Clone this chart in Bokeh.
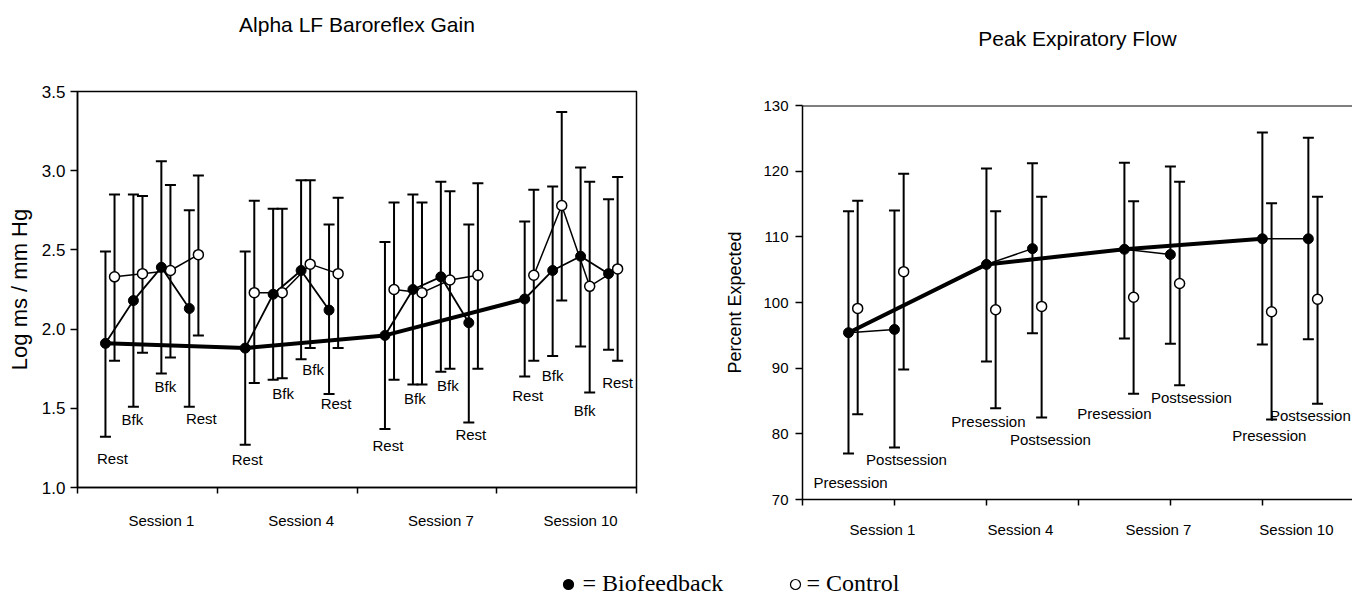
from bokeh.plotting import figure
from bokeh.layouts import row, column
from bokeh.models import FixedTicker, Range1d, Span, LinearAxis, NumeralTickFormatter
from bokeh.core.properties import value
from bokeh.embed import file_html
from bokeh.resources import INLINE

# ---------------- data ----------------
sessions = ["Session 1", "Session 4", "Session 7", "Session 10"]

# Left panel: Alpha LF baroreflex gain (log ms / mm Hg), 4 periods per session
baro_phase = ["Rest", "Bfk", "Bfk", "Rest"]
baro_bio_mean = [1.91, 2.18, 2.39, 2.13, 1.88, 2.22, 2.37, 2.12,
                 1.96, 2.25, 2.33, 2.04, 2.19, 2.37, 2.46, 2.35]
baro_bio_hi = [2.49, 2.85, 3.06, 2.75, 2.49, 2.76, 2.94, 2.66,
               2.55, 2.85, 2.93, 2.66, 2.68, 2.90, 3.02, 2.82]
baro_bio_lo = [1.32, 1.51, 1.72, 1.51, 1.27, 1.68, 1.81, 1.59,
               1.37, 1.65, 1.73, 1.41, 1.70, 1.83, 1.89, 1.87]
baro_ctl_mean = [2.33, 2.35, 2.37, 2.47, 2.23, 2.23, 2.41, 2.35,
                 2.25, 2.23, 2.31, 2.34, 2.34, 2.78, 2.27, 2.38]
baro_ctl_hi = [2.85, 2.84, 2.91, 2.97, 2.81, 2.76, 2.94, 2.83,
               2.80, 2.80, 2.87, 2.92, 2.88, 3.37, 2.93, 2.96]
baro_ctl_lo = [1.80, 1.85, 1.82, 1.96, 1.66, 1.69, 1.88, 1.88,
               1.68, 1.65, 1.75, 1.75, 1.80, 2.18, 1.60, 1.80]

# Right panel: Peak expiratory flow (% expected), pre / post per session
pef_phase = ["Presession", "Postsession"]
pef_bio_mean = [95.4, 95.9, 105.8, 108.2, 108.1, 107.3, 109.7, 109.7]
pef_bio_hi = [113.9, 114.0, 120.4, 121.2, 121.3, 120.7, 125.9, 125.1]
pef_bio_lo = [77.0, 77.9, 91.0, 95.3, 94.5, 93.7, 93.6, 94.4]
pef_ctl_mean = [99.1, 104.7, 98.9, 99.4, 100.8, 102.9, 98.6, 100.5]
pef_ctl_hi = [115.5, 119.6, 113.9, 116.1, 115.4, 118.4, 115.1, 116.1]
pef_ctl_lo = [83.0, 89.8, 83.9, 82.5, 86.1, 87.4, 82.2, 84.6]

titles = ["Alpha LF Baroreflex Gain", "Peak Expiratory Flow"]
legend_names = ["= Biofeedback", "= Control"]

# ---------------- layout helpers (positions / styles) ----------------
FONT = "Liberation Sans"
BLACK = "#000000"
baro_lab_dx = [7, -1, 4, 12, 2, 10, 12, 7, 3, 2, 7, 2, 3, 0, 4, 9]
baro_lab_dy = [22, 13, 13, 12, 15, 14, 10, 9, 17, 14, 14, 12, 19, 19, 18, 22]
pef_lab_dx = [2, 12, 2, 18, -10, 21, 7, 2]
pef_lab_dy = [29, 12, 13, 22, 20, 12, 16, 12]


def no_align(p):
    if "frame_align" in p.properties():
        p.frame_align = False


def add_title(p, text, gap, bounds):
    # title drawn as the label of a bare axis above the frame
    ax = LinearAxis(ticker=FixedTicker(ticks=[], minor_ticks=[]), axis_line_color=None,
                    major_tick_line_color=None, minor_tick_line_color=None,
                    major_tick_out=0, major_tick_in=0, minor_tick_out=0, minor_tick_in=0,
                    major_label_standoff=0, axis_label=text, axis_label_standoff=gap,
                    axis_label_text_font=FONT, axis_label_text_font_size="21px",
                    axis_label_text_font_style="normal", axis_label_text_color=BLACK,
                    bounds=bounds)
    p.add_layout(ax, "above")


def style_axes(p, tick_font, x_standoff):
    p.xgrid.grid_line_color = None
    p.ygrid.grid_line_color = None
    for ax in p.xaxis + p.yaxis:
        ax.axis_line_color = BLACK
        ax.axis_line_width = 1.5
        ax.major_tick_line_color = BLACK
        ax.major_tick_line_width = 1.5
        ax.minor_tick_line_color = BLACK
        ax.minor_tick_line_width = 1.5
        ax.major_label_text_font = FONT
        ax.major_label_text_color = BLACK
        ax.axis_label_text_font = FONT
        ax.axis_label_text_font_style = "normal"
        ax.axis_label_text_color = BLACK
    p.yaxis.major_label_text_font_size = tick_font
    p.xaxis.major_label_text_font_size = "15px"
    p.xaxis.major_tick_out = 0
    p.xaxis.major_tick_in = 0
    p.xaxis.minor_tick_out = 6
    p.xaxis.minor_tick_in = 0
    p.xaxis.major_label_standoff = x_standoff
    p.yaxis.major_tick_out = 7
    p.yaxis.major_tick_in = 0


def draw_errorbars(p, x, lo, hi, width):
    p.segment(x0=x, y0=lo, x1=x, y1=hi, line_color=BLACK, line_width=width)
    p.scatter(x=x, y=hi, marker="dash", size=11, line_color=BLACK, line_width=width)
    p.scatter(x=x, y=lo, marker="dash", size=11, line_color=BLACK, line_width=width)


# ================= LEFT PANEL =================
n_per = len(baro_phase)
bx = [s + 0.2 * (k + 1) for s in range(len(sessions)) for k in range(n_per)]
cx = [x + 0.065 for x in bx]

p1 = figure(width=700, height=550, x_range=Range1d(0, 4), y_range=Range1d(1.0, 3.5),
            output_backend="svg", toolbar_location=None,
            min_border_left=77, min_border_right=64, min_border_top=91, min_border_bottom=63)
no_align(p1)
p1.outline_line_color = BLACK
p1.outline_line_width = 1.5

p1.xaxis.ticker = FixedTicker(ticks=[s + 0.6 for s in range(len(sessions))],
                              minor_ticks=list(range(len(sessions) + 1)))
p1.xaxis.major_label_overrides = {s + 0.6: sessions[s] for s in range(len(sessions))}
p1.yaxis.ticker = FixedTicker(ticks=[1.0, 1.5, 2.0, 2.5, 3.0, 3.5], minor_ticks=[])
p1.yaxis.formatter = NumeralTickFormatter(format="0.0")
p1.yaxis.axis_label = "Log ms / mm Hg"
style_axes(p1, "17px", 18)
p1.yaxis.major_label_standoff = 5
p1.yaxis.axis_label_text_font_size = "22px"
p1.yaxis.axis_label_standoff = 7
add_title(p1, titles[0], 56, (0, 4))

draw_errorbars(p1, bx, baro_bio_lo, baro_bio_hi, 2)
draw_errorbars(p1, cx, baro_ctl_lo, baro_ctl_hi, 2)

for s in range(len(sessions)):
    sl = slice(s * n_per, (s + 1) * n_per)
    p1.line(cx[sl], baro_ctl_mean[sl], line_color=BLACK, line_width=1.5)
    p1.line(bx[sl], baro_bio_mean[sl], line_color=BLACK, line_width=1.8)

first = list(range(0, len(bx), n_per))
p1.line([bx[i] for i in first], [baro_bio_mean[i] for i in first], line_color=BLACK, line_width=4)

p1.scatter(cx, baro_ctl_mean, marker="circle", size=10, fill_color="white",
           line_color=BLACK, line_width=1.5)
p1.scatter(bx, baro_bio_mean, marker="circle", size=10, fill_color=BLACK, line_color=BLACK)

baro_lab_y = [min(a, b) for a, b in zip(baro_bio_lo, baro_ctl_lo)]
p1.text(x=bx, y=baro_lab_y, text=baro_phase * len(sessions), x_offset=baro_lab_dx,
        y_offset=baro_lab_dy, text_align="center", text_baseline="middle",
        text_font=value(FONT), text_font_size="15px", text_color=BLACK)

# ================= RIGHT PANEL =================
n_pp = len(pef_phase)
px_ = [0.5 + 1.5 * s + 0.5 * k for s in range(len(sessions)) for k in range(n_pp)]
pcx = [x + 0.1 for x in px_]

p2 = figure(width=652, height=550, x_range=Range1d(0, 5.98), y_range=Range1d(70, 130),
            output_backend="svg", toolbar_location=None,
            min_border_left=102, min_border_right=0, min_border_top=105, min_border_bottom=51)
no_align(p2)
p2.outline_line_color = None
p2.add_layout(Span(location=130, dimension="width", line_color=BLACK, line_width=2))

p2.xaxis.ticker = FixedTicker(ticks=[0.5 + 1.5 * s + 0.37 for s in range(len(sessions))],
                              minor_ticks=list(range(7)))
p2.xaxis.major_label_overrides = {0.5 + 1.5 * s + 0.37: sessions[s] for s in range(len(sessions))}
p2.yaxis.ticker = FixedTicker(ticks=[70, 80, 90, 100, 110, 120, 130], minor_ticks=[])
p2.yaxis.axis_label = "Percent Expected"
style_axes(p2, "15px", 15)
p2.yaxis.major_label_standoff = 7
p2.yaxis.axis_label_text_font_size = "18px"
p2.yaxis.axis_label_standoff = 15
add_title(p2, titles[1], 56, (0.18, 5.98))

draw_errorbars(p2, px_, pef_bio_lo, pef_bio_hi, 2)
draw_errorbars(p2, pcx, pef_ctl_lo, pef_ctl_hi, 2)

for s in range(len(sessions)):
    sl = slice(s * n_pp, (s + 1) * n_pp)
    p2.line(px_[sl], pef_bio_mean[sl], line_color=BLACK, line_width=1.5)

pfirst = list(range(0, len(px_), n_pp))
p2.line([px_[i] for i in pfirst], [pef_bio_mean[i] for i in pfirst], line_color=BLACK, line_width=4)

p2.scatter(pcx, pef_ctl_mean, marker="circle", size=10, fill_color="white",
           line_color=BLACK, line_width=1.5)
p2.scatter(px_, pef_bio_mean, marker="circle", size=10, fill_color=BLACK, line_color=BLACK)

pef_lab_y = [min(a, b) for a, b in zip(pef_bio_lo, pef_ctl_lo)]
p2.text(x=px_, y=pef_lab_y, text=pef_phase * len(sessions), x_offset=pef_lab_dx,
        y_offset=pef_lab_dy, text_align="center", text_baseline="middle",
        text_font=value(FONT), text_font_size="15px", text_color=BLACK)

# ================= LEGEND STRIP =================
p3 = figure(width=1352, height=47, x_range=Range1d(0, 1352), y_range=Range1d(0, 47),
            output_backend="svg", toolbar_location=None,
            min_border_left=0, min_border_right=0, min_border_top=0, min_border_bottom=0)
no_align(p3)
p3.axis.visible = False
p3.grid.visible = False
p3.outline_line_color = None
legend_fill = [BLACK, "white"]
legend_dot_x = [568, 795]
legend_text_x = [582, 806]
p3.scatter(x=legend_dot_x, y=[13, 13], marker="circle", size=10, fill_color=legend_fill,
           line_color=BLACK, line_width=1.2)
p3.text(x=legend_text_x, y=[15, 15], text=legend_names, text_align="left",
        text_baseline="alphabetic", text_font=value("Liberation Serif"),
        text_font_size="24px", text_color=BLACK)

layout = column(row(p1, p2), p3)
open("out.html", "w").write(file_html(layout, INLINE))
